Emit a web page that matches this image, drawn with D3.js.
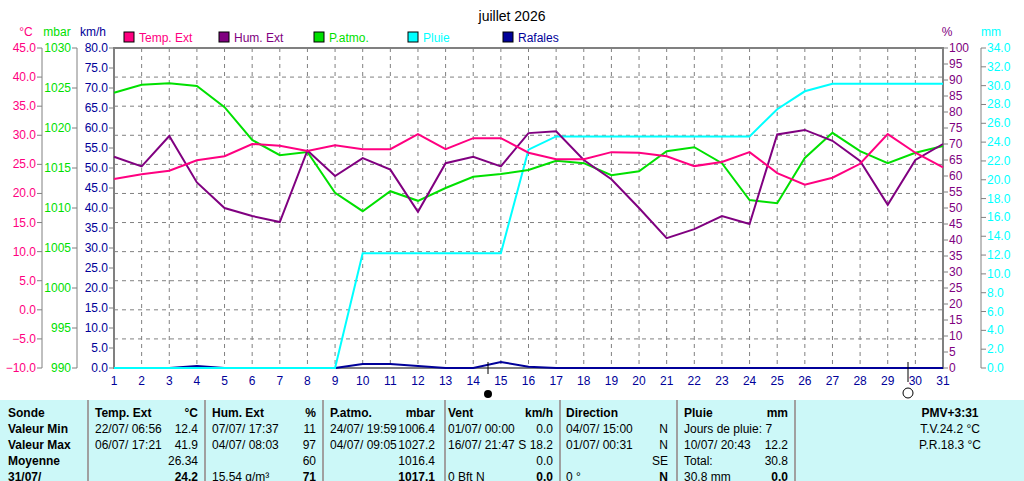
<!DOCTYPE html><html><head><meta charset="utf-8"><script src="https://cdn.jsdelivr.net/npm/d3@7"></script>
<style>body{margin:0;background:#fff}text{font-family:"Liberation Sans",Arial,sans-serif}</style></head><body><svg id="c" width="1024" height="481"></svg>
<script>
const days=d3.range(1,32);
const temp=[22.5,23.3,23.9,25.7,26.4,28.5,28.2,27.3,28.3,27.6,27.6,30.2,27.6,29.5,29.5,27.0,25.9,25.9,27.1,27.0,26.4,24.7,25.4,27.1,23.5,21.5,22.7,25.1,30.2,27.0,24.5];
const hum=[66,63,72.5,58,50,47.5,45.6,68,60,65.6,62,48.8,64,66,63,73.4,74,65,59,50,40.6,43.4,47.5,45,73,74.4,71,64.7,51,65,70];
const pres=[1024.4,1025.4,1025.6,1025.25,1022.6,1018.5,1016.6,1017,1011.9,1009.6,1012.1,1010.9,1012.5,1013.9,1014.25,1014.75,1015.9,1015.6,1014.1,1014.6,1017.1,1017.6,1015.6,1011,1010.6,1016.25,1019.4,1017.1,1015.6,1016.9,1017.75];
const rain=[0,0,0,0,0,0,0,0,0,12.2,12.2,12.2,12.2,12.2,12.2,23.2,24.6,24.6,24.6,24.6,24.6,24.6,24.6,24.6,27.5,29.4,30.2,30.2,30.2,30.2,30.2];
const gust=[0,0,0,0.5,0,0,0,0,0,1,1,0.5,0,0,1.5,0.3,0,0,0,0,0,0,0,0,0,0,0,0,0,0,0];
const legend=["Temp. Ext","Hum. Ext","P.atmo.","Pluie","Rafales"];
const colors={t:"#ff0080",h:"#800080",p:"#00e000",r:"#00ffff",g:"#000099"};
const table=[
["Sonde","Valeur Min","Valeur Max","Moyenne","31/07/"],
];
const svg=d3.select("#c");
const L=114,R=943,T=48,B=368;
const x=d3.scaleLinear().domain([1,31]).range([L,R]);
const yT=d3.scaleLinear().domain([-10,45]).range([B,T]);
const yP=d3.scaleLinear().domain([990,1030]).range([B,T]);
const yK=d3.scaleLinear().domain([0,80]).range([B,T]);
const yH=d3.scaleLinear().domain([0,100]).range([B,T]);
const yR=d3.scaleLinear().domain([0,34]).range([B,T]);
svg.append("text").attr("x",512).attr("y",21).attr("text-anchor","middle").attr("font-size",14).text("juillet 2026");
// grid
days.forEach(d=>{svg.append("line").attr("x1",x(d)).attr("x2",x(d)).attr("y1",T).attr("y2",B).attr("stroke","#808080").attr("stroke-dasharray","4,4");});
d3.range(-5,45,5).forEach(v=>{svg.append("line").attr("x1",L).attr("x2",R).attr("y1",yT(v)).attr("y2",yT(v)).attr("stroke","#808080").attr("stroke-dasharray","4,4");});
svg.append("rect").attr("x",L).attr("y",T).attr("width",R-L).attr("height",B-T).attr("fill","none").attr("stroke","#808080").attr("stroke-width",2);
function axis(scale,ticks,fmt,xp,color,left,unit,ux){
 const g=svg.append("g");
 g.append("line").attr("x1",xp).attr("x2",xp).attr("y1",T).attr("y2",B).attr("stroke","#808080");
 ticks.forEach(v=>{const y=scale(v);
  g.append("line").attr("x1",xp).attr("x2",xp+(left?-5:5)).attr("y1",y).attr("y2",y).attr("stroke","#808080");
  g.append("text").attr("x",xp+(left?-6:6)).attr("y",y+4).attr("text-anchor",left?"end":"start").attr("font-size",12).attr("fill",color).text(fmt(v));});
 svg.append("text").attr("x",ux).attr("y",36).attr("text-anchor","middle").attr("font-size",12).attr("fill",color).text(unit);
}
axis(yT,d3.range(-10,46,5),d3.format(".1f"),42,colors.t,true,"°C",26);
axis(yP,d3.range(990,1031,5),d3.format("d"),77,"#00e000",true,"mbar",57);
axis(yK,d3.range(0,81,5),d3.format(".1f"),L,"#000099",true,"km/h",93);
axis(yH,d3.range(0,101,5),d3.format("d"),R,colors.h,false,"%",947);
axis(yR,d3.range(0,35,2),d3.format(".1f"),981,"#00ffff",false,"mm",991);
days.forEach(d=>svg.append("text").attr("x",x(d)).attr("y",385).attr("text-anchor","middle").attr("font-size",12).attr("fill","#000099").text(d));
const line=(ys,data,c)=>svg.append("path").datum(data).attr("fill","none").attr("stroke",c).attr("stroke-width",2).attr("d",d3.line().x((d,i)=>x(i+1)).y(d=>ys(d)));
line(yK,gust,colors.g);
line(yR,rain,colors.r);
line(yP,pres,colors.p);
line(yH,hum,colors.h);
line(yT,temp,colors.t);
const lx=[124,219,314,408,503], lc=[colors.t,colors.h,colors.p,colors.r,colors.g];
legend.forEach((s,i)=>{svg.append("rect").attr("x",lx[i]).attr("y",32).attr("width",10).attr("height",10).attr("fill",lc[i]).attr("stroke","#000");
 svg.append("text").attr("x",lx[i]+15).attr("y",42).attr("font-size",12).attr("fill",lc[i]).text(s);});
svg.append("circle").attr("cx",488).attr("cy",394).attr("r",4).attr("fill","#000");
svg.append("circle").attr("cx",908).attr("cy",393).attr("r",5).attr("fill","#fff").attr("stroke","#000");
svg.append("line").attr("x1",488).attr("x2",488).attr("y1",362).attr("y2",374).attr("stroke","#000");
svg.append("line").attr("x1",908).attr("x2",908).attr("y1",362).attr("y2",382).attr("stroke","#000");
// table
svg.append("rect").attr("x",0).attr("y",400).attr("width",1024).attr("height",81).attr("fill","#ccf8f8");
[88,205,323,445,560,677,795].forEach(v=>svg.append("line").attr("x1",v).attr("x2",v).attr("y1",400).attr("y2",481).attr("stroke","#a0a0a0").attr("stroke-width",2));
const rows=[417,433,449,465,481];
const cells=[
 [8,"start",["Sonde","Valeur Min","Valeur Max","Moyenne","31/07/"],[1,1,1,1,1]],
 [95,"start",["Temp. Ext","22/07/  06:56","06/07/  17:21","",""],[1,0,0,0,0]],
 [198,"end",["°C","12.4","41.9","26.34","24.2"],[1,0,0,0,1]],
 [212,"start",["Hum. Ext","07/07/  17:37","04/07/  08:03","","15.54 g/m³"],[1,0,0,0,0]],
 [316,"end",["%","11","97","60","71"],[1,0,0,0,1]],
 [330,"start",["P.atmo.","24/07/  19:59","04/07/  09:05","",""],[1,0,0,0,0]],
 [435,"end",["mbar","1006.4","1027.2","1016.4","1017.1"],[1,0,0,0,1]],
 [448,"start",["Vent","01/07/  00:00","16/07/  21:47","","0 Bft N"],[1,0,0,0,0]],
 [553,"end",["km/h","0.0","S 18.2","0.0","0.0"],[1,0,0,0,1]],
 [566,"start",["Direction","04/07/  15:00","01/07/  00:31",""," 0 °"],[1,0,0,0,0]],
 [668,"end",["","N","N","SE","N"],[0,0,0,0,1]],
 [684,"start",["Pluie","Jours de pluie: 7","10/07/  20:43","Total:"," 30.8 mm"],[1,0,0,0,0]],
 [788,"end",["mm","","12.2","30.8","0.0"],[1,0,0,0,1]],
 [950,"middle",["PMV+3:31","T.V.24.2 °C","P.R.18.3 °C","",""],[1,0,0,0,0]]
];
cells.forEach(([cx,a,txt,b])=>txt.forEach((t,i)=>{if(t)svg.append("text").attr("x",cx).attr("y",rows[i]).attr("text-anchor",a).attr("font-size",12).attr("font-weight",b[i]?"bold":"normal").text(t);}));
</script></body></html>
